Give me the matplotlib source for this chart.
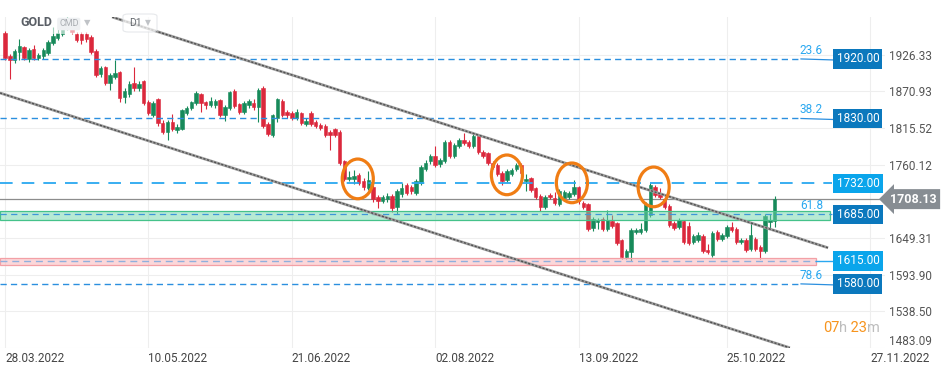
import numpy as np
import matplotlib
matplotlib.use("Agg")
import matplotlib.pyplot as plt
import matplotlib.transforms as mtransforms
from matplotlib.patches import Ellipse, Rectangle, FancyBboxPatch

plt.rcParams['font.family'] = ['Roboto', 'DejaVu Sans']

# daily candles GOLD, 28.03.2022 -> 08.11.2022
opens = [1959, 1924, 1918, 1931, 1938, 1920, 1935, 1921, 1924, 1929,
         1944, 1952, 1958, 1968, 1975, 1958, 1958, 1958, 1953, 1932,
         1897, 1908, 1884, 1893, 1900, 1862, 1867, 1884, 1876, 1886,
         1855, 1835, 1859, 1823, 1809, 1825, 1813, 1814, 1838, 1846,
         1853, 1867, 1855, 1850, 1850, 1858, 1835, 1846, 1871, 1852,
         1840, 1850, 1854, 1848, 1876, 1822, 1805, 1831, 1857, 1840,
         1838, 1831, 1838, 1821, 1839, 1824, 1820, 1819, 1809, 1814,
         1809, 1765, 1738, 1738, 1745, 1735, 1725, 1726, 1711, 1706,
         1708, 1713, 1696, 1716, 1730, 1726, 1717, 1733, 1753, 1765,
         1774, 1761, 1765, 1794, 1773, 1789, 1798, 1795, 1789, 1804,
         1779, 1778, 1763, 1760, 1748, 1737, 1746, 1753, 1760, 1735,
         1740, 1725, 1713, 1696, 1715, 1710, 1700, 1710, 1712, 1716,
         1726, 1703, 1700, 1664, 1674, 1678, 1663, 1675, 1672, 1646,
         1620, 1628, 1658, 1659, 1662, 1684, 1727, 1718, 1708, 1698,
         1672, 1666, 1675, 1667, 1644, 1647, 1653, 1631, 1624, 1659,
         1648, 1652, 1666, 1663, 1643, 1647, 1633, 1648, 1636, 1629,
         1673, 1675]
highs = [1962, 1927, 1935, 1950, 1940, 1936, 1941, 1929, 1937, 1949,
         1969, 1970, 1978, 1986, 1982, 1960, 1960, 1960, 1956, 1935,
         1910, 1910, 1899, 1918, 1902, 1876, 1886, 1908, 1886, 1888,
         1858, 1856, 1861, 1828, 1827, 1837, 1822, 1845, 1849, 1857,
         1871, 1869, 1857, 1863, 1860, 1860, 1850, 1872, 1874, 1854,
         1856, 1859, 1860, 1876, 1879, 1825, 1837, 1861, 1859, 1843,
         1841, 1844, 1840, 1830, 1842, 1827, 1823, 1822, 1812, 1816,
         1812, 1768, 1750, 1752, 1748, 1740, 1750, 1729, 1714, 1715,
         1718, 1716, 1724, 1732, 1733, 1729, 1739, 1760, 1767, 1777,
         1788, 1771, 1797, 1797, 1793, 1801, 1808, 1798, 1807, 1807,
         1782, 1780, 1766, 1762, 1750, 1753, 1755, 1763, 1762, 1746,
         1742, 1727, 1716, 1714, 1717, 1719, 1724, 1722, 1721, 1737,
         1728, 1706, 1702, 1681, 1680, 1681, 1691, 1684, 1674, 1648,
         1632, 1665, 1665, 1672, 1704, 1733, 1730, 1725, 1711, 1700,
         1675, 1680, 1677, 1673, 1656, 1658, 1655, 1640, 1660, 1662,
         1657, 1669, 1674, 1666, 1649, 1650, 1672, 1651, 1639, 1686,
         1685, 1713]
lows = [1918, 1890, 1914, 1918, 1918, 1916, 1918, 1918, 1920, 1926,
        1941, 1949, 1955, 1963, 1957, 1945, 1943, 1946, 1927, 1893,
        1893, 1880, 1873, 1890, 1855, 1853, 1862, 1872, 1872, 1850,
        1835, 1832, 1818, 1806, 1798, 1811, 1808, 1812, 1835, 1843,
        1850, 1840, 1845, 1847, 1846, 1832, 1826, 1843, 1846, 1837,
        1837, 1846, 1843, 1825, 1816, 1804, 1802, 1825, 1832, 1831,
        1827, 1828, 1820, 1818, 1819, 1816, 1812, 1802, 1782, 1802,
        1760, 1735, 1735, 1731, 1730, 1722, 1722, 1704, 1695, 1702,
        1704, 1688, 1685, 1712, 1714, 1716, 1714, 1730, 1750, 1761,
        1756, 1757, 1762, 1770, 1770, 1786, 1790, 1786, 1786, 1776,
        1770, 1759, 1754, 1743, 1730, 1734, 1743, 1750, 1744, 1720,
        1719, 1708, 1690, 1693, 1708, 1699, 1697, 1707, 1709, 1713,
        1700, 1693, 1660, 1660, 1663, 1660, 1660, 1664, 1639, 1618,
        1617, 1615, 1655, 1656, 1659, 1681, 1712, 1708, 1693, 1666,
        1661, 1663, 1640, 1639, 1641, 1644, 1626, 1625, 1620, 1645,
        1645, 1649, 1658, 1641, 1640, 1628, 1630, 1630, 1617, 1626,
        1665, 1666]
closes = [1921, 1919, 1932, 1939, 1921, 1934, 1921, 1926, 1934, 1946,
          1954, 1959, 1968, 1975, 1960, 1948, 1949, 1950, 1930, 1896,
          1906, 1884, 1896, 1899, 1861, 1871, 1882, 1876, 1882, 1853,
          1838, 1853, 1823, 1809, 1825, 1814, 1817, 1843, 1846, 1855,
          1869, 1853, 1850, 1856, 1856, 1835, 1848, 1870, 1849, 1840,
          1853, 1856, 1847, 1873, 1819, 1807, 1835, 1859, 1835, 1835,
          1830, 1840, 1823, 1826, 1822, 1819, 1815, 1805, 1805, 1805,
          1763, 1738, 1742, 1743, 1733, 1726, 1737, 1708, 1706, 1712,
          1713, 1695, 1721, 1725, 1718, 1720, 1736, 1757, 1763, 1774,
          1760, 1767, 1794, 1773, 1790, 1798, 1793, 1789, 1804, 1779,
          1774, 1762, 1757, 1746, 1735, 1750, 1752, 1760, 1747, 1738,
          1722, 1711, 1696, 1711, 1711, 1702, 1721, 1719, 1718, 1726,
          1705, 1696, 1663, 1678, 1677, 1663, 1676, 1667, 1642, 1621,
          1629, 1662, 1662, 1663, 1700, 1730, 1715, 1712, 1696, 1669,
          1664, 1677, 1643, 1642, 1652, 1654, 1629, 1628, 1657, 1648,
          1654, 1666, 1661, 1644, 1646, 1631, 1654, 1633, 1629, 1682,
          1677, 1708.13]

date_labels = ["28.03.2022", "10.05.2022", "21.06.2022", "02.08.2022",
               "13.09.2022", "25.10.2022", "27.11.2022"]
date_pos = [0, 30, 60, 90, 120, 151, 181]
price_ticks = [1483.09, 1538.50, 1593.90, 1649.31, 1760.12, 1815.52, 1870.93, 1926.33]
last_price = 1708.13

# support / resistance levels and fibo retracements
levels = [1920, 1830, 1732, 1685, 1615, 1580]
level_dark = [True, True, False, True, False, True]
fibo = {1920: "23.6", 1830: "38.2", 1685: "61.8", 1580: "78.6"}
green_zone = (1676.5, 1690)
red_zone = (1609, 1619)

# channel lines (bar index, price)
upper_ch = [(22.4, 1983.4), (172.2, 1634.5)]
lower_ch = [(-1.05, 1868.6), (164.2, 1483.4)]
# orange rings around rejections (bar index, price)
rings = [(73.8, 1738.7), (105.0, 1744.8), (118.6, 1732.7), (135.7, 1726.6)]

W, H = 949, 373
def fx(px):
    return px / W
def fy(py):
    return 1 - py / H

fig = plt.figure(figsize=(W / 100, H / 100), dpi=100)
ax = fig.add_axes([0, fy(348), 885 / W, (348 - 17) / H])
AXW = 885.0
def axx(px):
    return px / AXW

n = len(opens)
x = np.arange(n)
o = np.array(opens, float); c = np.array(closes, float)
hi = np.array(highs, float); lo = np.array(lows, float)
up = c >= o
GREEN, RED = '#178a5a', '#db283c'
cols = np.where(up, GREEN, RED)

ax.vlines(x, lo, hi, color=cols, lw=0.8, zorder=3)
ax.bar(x, np.maximum(np.abs(c - o), 1.2), bottom=np.minimum(o, c), width=0.72,
       color=cols, edgecolor=cols, linewidth=0.4, zorder=3)

ax.set_xlim(-1.05, 184.1)
ax.set_ylim(1483.09, 1983.4)

# grid / axes
ax.set_xticks(date_pos)
ax.set_xticklabels(date_labels, ha='left')
ax.set_yticks(price_ticks)
ax.set_yticklabels(['%.2f' % v for v in price_ticks])
ax.yaxis.tick_right()
ax.tick_params(axis='both', length=0, labelsize=8.5, colors='#555555')
ax.tick_params(axis='x', pad=3, colors='#444444')
ax.tick_params(axis='y', pad=3)
ax.get_yticklabels()[0].set_va('bottom')
ax.grid(True, color='#eeeeee', lw=0.8)
ax.set_axisbelow(True)
for s in ax.spines.values():
    s.set_visible(False)

blend = mtransforms.blended_transform_factory(ax.transAxes, ax.transData)

# zones
ax.add_patch(Rectangle((0, green_zone[0]), axx(830), green_zone[1] - green_zone[0],
                       transform=blend, fc='#6fd6aa', alpha=0.5, ec='none', zorder=4))
ax.add_patch(Rectangle((0, green_zone[0]), axx(830), green_zone[1] - green_zone[0],
                       transform=blend, fc='none', ec='#45c28a', lw=0.9, zorder=4))
ax.add_patch(Rectangle((0, red_zone[0]), axx(816), red_zone[1] - red_zone[0],
                       transform=blend, fc='#fbb0b5', alpha=0.5, ec='none', zorder=4))
ax.add_patch(Rectangle((0, red_zone[0]), axx(816), red_zone[1] - red_zone[0],
                       transform=blend, fc='none', ec='#f3a0a6', lw=0.9, zorder=4))

# current price line
ax.plot([0, 1], [last_price, last_price], transform=blend, color='#8c8c8c', lw=0.9, zorder=2)

# level lines
BLUE = '#2b8fdf'
for lv, dark in zip(levels, level_dark):
    if lv == 1732:
        ax.plot([0, axx(832)], [lv, lv], transform=blend, color='#2aa8f0', lw=1.3,
                dashes=(7, 5), zorder=5)
    elif lv == 1685:
        ax.plot([0, axx(832)], [lv, lv], transform=blend, color='#3d97d8', lw=0.9,
                dashes=(5, 3.5), zorder=5)
    elif lv == 1615:
        ax.plot([0, axx(816)], [lv, lv], transform=blend, color='#8fb0de', lw=1.0,
                dashes=(5, 3.5), zorder=5)
        ax.plot([axx(816), axx(833)], [lv, lv], transform=blend, color='#2aa8f0', lw=1.0, zorder=5)
    else:
        ax.plot([0, axx(801)], [lv, lv], transform=blend, color=BLUE, lw=1.0,
                dashes=(4.5, 3), zorder=5)
        ax.plot([axx(801), axx(833)], [lv, lv - 1.5], transform=blend, color=BLUE, lw=0.9, zorder=5)
    box = '#0b78bd' if dark else '#0aa5eb'
    ax.text(axx(836.5), lv, '%.2f' % lv, transform=blend, ha='left', va='center',
            color='white', fontsize=8.5, zorder=8,
            bbox=dict(boxstyle='square,pad=0.28', fc=box, ec='none'))
    if lv in fibo:
        ax.annotate(fibo[lv], xy=(axx(823), lv), xycoords=blend, xytext=(0, 1.5),
                    textcoords='offset points', ha='right', va='bottom',
                    color='#2aa8f0', fontsize=8.5, zorder=8)

# current price tag
ax.text(axx(890), last_price, '%.2f' % last_price, transform=blend, ha='left', va='center',
        color='white', fontsize=9, fontweight='bold', zorder=9, clip_on=False,
        bbox=dict(boxstyle='larrow,pad=0.28', fc='#878d93', ec='none'))

# channel
for ln in (upper_ch, lower_ch):
    xs = [p[0] for p in ln]; ys = [p[1] for p in ln]
    ax.plot(xs, ys, color='#a0a0a0', lw=2.0, zorder=6, solid_capstyle='butt')
    ax.plot(xs, ys, color='#505050', lw=1.0, dashes=(1.5, 1.2), zorder=6)

# rings
for cx, cy in rings:
    ax.add_patch(Ellipse((cx, cy), 6.5, 60, fill=False, ec='#f07d14', lw=2.3, zorder=7))

# header
fig.add_artist(Rectangle((fx(14), fy(34)), fx(100) - fx(14), (34 - 10) / H,
                         transform=fig.transFigure, fc='white', alpha=0.6, ec='none', zorder=5))
fig.text(fx(20), fy(23), 'GOLD', fontsize=9, fontweight='bold', color='#5a5f66',
         va='center', zorder=6)
fig.text(fx(59), fy(24), 'CMD', fontsize=6.5, color='#a9adb2', va='center', zorder=6,
         bbox=dict(boxstyle='round,pad=0.2', fc='#eef0f2', ec='none'))
fig.text(fx(84), fy(22.5), '\u25bc', fontsize=6, color='#c0c3c7', va='center', zorder=6)
fig.add_artist(FancyBboxPatch((fx(123), fy(32)), fx(157) - fx(123), 18 / H,
                              boxstyle='round,pad=0,rounding_size=0.006',
                              transform=fig.transFigure, fc='white', alpha=0.7,
                              ec='#dcdfe3', lw=0.8, zorder=5))
fig.text(fx(129), fy(23), 'D1', fontsize=7.5, color='#666b70', va='center', zorder=6)
fig.text(fx(145), fy(23), '\u25bc', fontsize=5.5, color='#c0c3c7', va='center', zorder=6)

# countdown
ORANGE, LG = '#f7941d', '#bdbdbd'
t = fig.text(fx(823), fy(328), '07', fontsize=10.5, color=ORANGE, va='center')
t = ax.annotate('h', xy=(1, 0), xycoords=t, va='bottom', ha='left', fontsize=10.5, color=LG)
t = ax.annotate(' 23', xy=(1, 0), xycoords=t, va='bottom', ha='left', fontsize=10.5, color=ORANGE)
t = ax.annotate('m', xy=(1, 0), xycoords=t, va='bottom', ha='left', fontsize=10.5, color=LG)

fig.savefig('out.png', dpi=100)
